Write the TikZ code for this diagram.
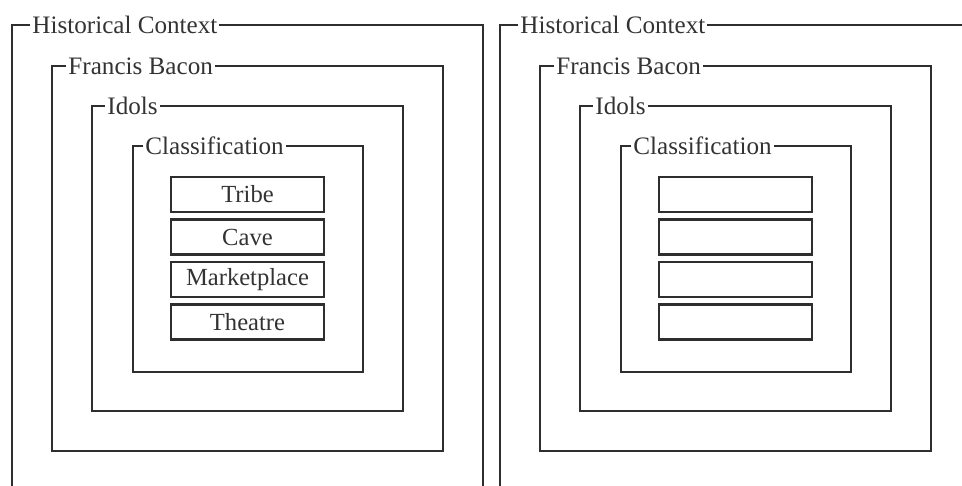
\documentclass[tikz,border=0pt]{standalone}
\usepackage{fontspec}
\setmainfont{Liberation Serif}
\usetikzlibrary{positioning}

\tikzset{
  frame/.style={draw=black!82, line width=1.4pt},
  framelabel/.style={fill=white, text=black!80, inner sep=1.2pt, anchor=west,
    font=\fontsize{14.3}{16}\selectfont},
  idolbox/.style={draw=black!82, line width=1.4pt, text=black!80, inner sep=0pt,
    minimum width=3.06cm, minimum height=0.70cm, font=\fontsize{14}{16}\selectfont}
}

\begin{document}
\begin{tikzpicture}[x=0.02cm, y=-0.02cm]
  \useasboundingbox (0,0) rectangle (962,486);
  \clip (0,0) rectangle (962,486);

  % same panel twice, the second one without the names
  \foreach \side/\dx in {l/0, r/488} {
    \begin{scope}[xshift=\dx*0.02cm]
      % nested frames
      \draw[frame] (12,25) rectangle (483,540);
      \draw[frame] (52,66) rectangle (443,451);
      \draw[frame] (92,106) rectangle (403,411);
      \draw[frame] (133,146) rectangle (363,372);

      \node[framelabel] (hc\side) at (30,25) {Historical Context};
      \node[framelabel] (fb\side) at (66,66) {Francis Bacon};
      \node[framelabel] (idols\side) at (105,106) {Idols};
      \node[framelabel] (class\side) at (143,146) {Classification};

      \foreach \t [count=\i] in {Tribe,Cave,Marketplace,Theatre} {
        \node[idolbox] (box\side\i) at (247.5, {194.5+42.5*(\i-1)}) {\ifnum\dx=0 \t\fi};
      }
    \end{scope}
  }
\end{tikzpicture}
\end{document}
